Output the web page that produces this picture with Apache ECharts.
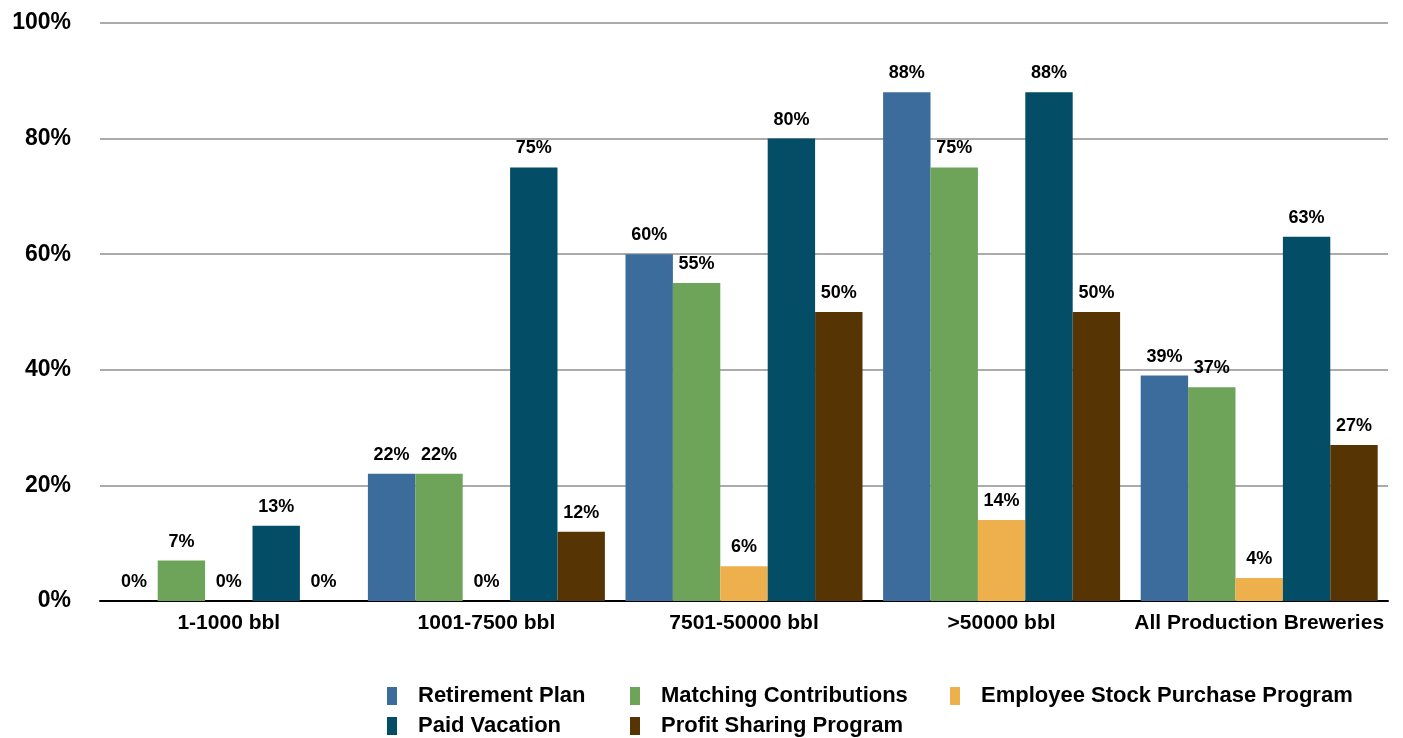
<!DOCTYPE html>
<html>
<head>
<meta charset="utf-8">
<style>
  html, body { margin: 0; padding: 0; background: #fff; }
  #chart { width: 1403px; height: 738px; }
</style>
<script src="https://cdn.jsdelivr.net/npm/echarts@6/dist/echarts.min.js"></script>
</head>
<body>
<div id="chart"></div>
<script>
// Brewery size tiers
const categories = ['1-1000 bbl', '1001-7500 bbl', '7501-50000 bbl', '>50000 bbl', 'All Production Breweries'];

// Share of breweries offering each benefit (%)
const retirementPlan = [0, 22, 60, 88, 39];
const matchingContributions = [7, 22, 55, 75, 37];
const employeeStockPurchase = [0, 0, 6, 14, 4];
const paidVacation = [13, 75, 80, 88, 63];
const profitSharing = [0, 12, 50, 50, 27];

const yTicks = [0, 20, 40, 60, 80, 100];

const seriesDefs = [
  { name: 'Retirement Plan', data: retirementPlan, color: '#3c6c9c' },
  { name: 'Matching Contributions', data: matchingContributions, color: '#6da45a' },
  { name: 'Employee Stock Purchase Program', data: employeeStockPurchase, color: '#edb04d' },
  { name: 'Paid Vacation', data: paidVacation, color: '#034d66' },
  { name: 'Profit Sharing Program', data: profitSharing, color: '#563404' }
];

const labelFont = 'Liberation Sans, Arial, sans-serif';
const legendFont = 'Liberation Sans Narrow, Liberation Sans, sans-serif';

// Legend laid out as a two-row grid with aligned columns
const legendPos = [
  { left: 387, top: 685 },
  { left: 630, top: 685 },
  { left: 950, top: 685 },
  { left: 387, top: 715 },
  { left: 630, top: 715 }
];

const chart = echarts.init(document.getElementById('chart'));
chart.setOption({
  animation: false,
  backgroundColor: '#ffffff',
  grid: { left: 100, right: 15, top: 23, bottom: 137, containLabel: false },
  legend: seriesDefs.map((s, i) => ({
    data: [s.name],
    left: legendPos[i].left,
    top: legendPos[i].top,
    itemWidth: 10,
    itemHeight: 18,
    itemGap: 0,
    icon: 'rect',
    selectedMode: false,
    padding: 0,
    textStyle: {
      fontFamily: legendFont,
      fontWeight: 'bold',
      fontSize: 22,
      color: '#000',
      padding: [0, 0, 0, 16]
    }
  })),
  xAxis: {
    type: 'category',
    data: categories,
    axisLine: { lineStyle: { color: '#000', width: 2 } },
    axisTick: { show: false },
    axisLabel: {
      interval: 0,
      fontFamily: labelFont,
      fontWeight: 'bold',
      fontSize: 21,
      color: '#000',
      margin: 12
    }
  },
  yAxis: {
    type: 'value',
    min: 0,
    max: 100,
    interval: 20,
    axisLine: { show: false },
    axisTick: { show: false },
    splitLine: { lineStyle: { color: '#ababab', width: 2 } },
    axisLabel: {
      fontFamily: labelFont,
      fontWeight: 'bold',
      fontSize: 23,
      color: '#000',
      margin: 29,
      formatter: v => yTicks.includes(v) ? v + '%' : ''
    }
  },
  series: seriesDefs.map(s => ({
    name: s.name,
    type: 'bar',
    data: s.data,
    barGap: '0%',
    barCategoryGap: '8%',
    itemStyle: { color: s.color },
    label: {
      show: true,
      position: 'top',
      distance: 10,
      formatter: '{c}%',
      fontFamily: labelFont,
      fontWeight: 'bold',
      fontSize: 18,
      color: '#000'
    }
  }))
});
</script>
</body>
</html>
